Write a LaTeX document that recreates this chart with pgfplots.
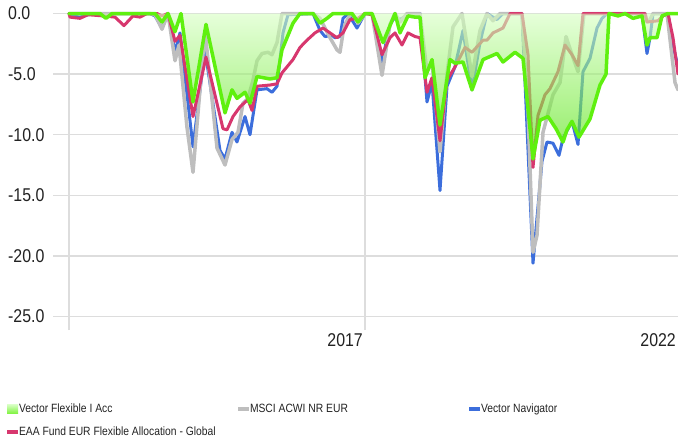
\documentclass[border=0pt]{standalone}
\usepackage{pgfplots}
\usepackage{pgfplotstable}
\pgfplotsset{compat=1.18}
\usepackage{fontspec}
\setmainfont{Liberation Sans}[FakeStretch=0.86]
\definecolor{vgreen}{RGB}{95,240,15}
\definecolor{filltop}{RGB}{215,255,195}
\definecolor{fillbot}{RGB}{75,225,0}
\definecolor{mgray}{RGB}{190,190,190}
\definecolor{vblue}{RGB}{60,110,220}
\definecolor{vpink}{RGB}{215,55,110}
\definecolor{gridc}{RGB}{221,221,221}
\definecolor{txt}{RGB}{34,34,34}

\pgfplotstableread{
x y
69 0
100 0
106 -0.4
112 0
155 0
162 -0.7
168 0
175 -1.5
181 0
193 -7.3
206 -0.9
225 -8.2
232 -6.3
237 -7.0
245 -6.5
250 -7.4
257 -5.2
270 -5.4
277 -5.3
282 -3.0
287 -2.0
293 -0.8
300 0
313 0
320 -0.8
327 -0.4
333 0
352 0
358 -0.7
365 0
372 0
383 -2.4
395 0
400 -1.6
408 -0.2
415 -0.3
420 -0.3
425 -5.3
432 -3.8
440 -9.2
450 -3.8
455 -4.1
463 -4.0
472 -6.3
483 -3.8
497 -3.3
503 -4.0
515 -3.2
523 -3.7
533 -12.0
540 -8.8
548 -8.5
556 -9.5
563 -10.6
567 -9.6
572 -8.9
579 -10.2
590 -8.7
600 -5.9
606 -5.0
609 0
618 -0.2
625 0
633 -0.4
642 -0.2
647 -2.6
650 -2.0
657 -2.0
662 -0.2
668 0
678 0
}\greentab

\pgfplotstableread{
x y
69 0
100 0
150 0
155 -0.1
162 -1.3
168 0
175 -3.9
179 -2.6
187 -9.4
193 -13.1
205 -1.4
217 -11.1
225 -12.5
232 -10.4
238 -9.8
243 -7.4
248 -7.0
253 -5.5
257 -3.9
262 -3.3
268 -3.2
272 -3.4
277 -2.4
282 0
313 0
320 -0.4
330 -2.0
337 -3.0
340 -3.2
343 -1.6
345 -0.9
350 -0.1
352 0
358 -0.8
365 0
372 0
382 -5.1
390 -0.9
395 0
400 -0.7
407 0
420 0
427 -4.8
432 -4.0
440 -11.4
447 -5.0
453 -1.1
462 0
472 -5.2
480 -1.4
487 0
493 -0.6
500 0
522 0
528 -8.0
533 -19.7
537 -18.3
543 -9.8
553 -6.7
560 -5.7
566 -1.9
572 -3.4
578 -4.8
584 0
645 0
647 -0.7
650 -0.5
653 0
667 0
675 -5.7
678 -6.3
}\graytab

\pgfplotstableread{
x y
69 0
72 -0.2
80 -0.3
88 -0.1
100 0
150 0
155 -0.2
162 -1.2
168 0
175 -3.2
180 -1.6
193 -11.0
205 -3.0
220 -11.3
225 -12.0
232 -9.8
237 -10.6
245 -8.5
250 -10.0
257 -6.3
267 -6.2
272 -6.5
277 -6.0
283 -1.6
288 -0.1
313 0
320 -1.4
325 -1.9
332 -1.8
335 -2.0
340 -1.9
343 -0.4
348 0
357 -1.2
365 0
372 0
382 -4.0
390 -0.9
395 -0.3
400 -0.5
408 -0.1
420 0
427 -7.3
432 -5.7
440 -14.6
447 -6.0
455 -4.4
463 -1.4
472 -6.3
480 -2.4
487 0
497 -0.5
503 0
522 0
533 -20.6
542 -12.2
547 -10.6
553 -10.7
559 -11.7
563 -10.3
572 -8.9
578 -10.8
583 -4.8
590 -3.7
597 -1.2
602 -0.4
607 0
642 0
647 -3.3
650 -2.0
653 0
668 0
673 -2.6
678 -4.4
}\bluetab

\pgfplotstableread{
x y
69 0
70 -0.3
80 -0.4
88 -0.1
103 -0.2
115 -0.3
124 -1.0
133 -0.2
140 -0.3
147 0
157 0
162 -0.2
168 0
175 -2.3
180 -1.8
193 -8.5
206 -3.6
223 -9.5
227 -9.6
233 -8.5
240 -7.7
248 -7.1
252 -8.0
257 -6.0
270 -5.9
277 -5.8
282 -4.9
287 -4.4
293 -3.8
300 -2.8
307 -2.2
315 -1.6
323 -1.2
330 -1.6
337 -2.0
343 -1.6
350 -0.5
358 -0.4
365 0
372 -0.1
382 -3.4
390 -2.0
395 -1.6
402 -2.6
408 -1.6
415 -1.9
420 -2.0
427 -6.5
432 -5.3
440 -10.5
447 -5.5
455 -4.4
465 -2.8
472 -3.2
483 -2.2
487 -2.2
493 -1.6
503 -1.2
510 0
522 0
528 -3.4
533 -12.7
538 -8.4
545 -6.7
550 -6.2
558 -4.8
565 -2.6
572 -3.4
578 -4.3
583 0
645 0
647 -0.7
658 -0.6
663 -0.2
668 0
673 -2.0
678 -5.0
}\pinktab

\begin{document}
\begin{tikzpicture}
\path[use as bounding box] (0,0) rectangle (678bp,-440bp);
\begin{axis}[
  at={(53bp,-13.5bp)}, anchor=north west,
  scale only axis, width=625bp, height=316.5bp,
  xmin=53, xmax=678, ymin=-26.11, ymax=0,
  clip=false,
  axis line style={draw=none},
  major tick length=0pt,
  xtick={69,365}, xticklabels={,2017},
  extra x ticks={678}, extra x tick labels={2022},
  extra x tick style={grid=none},
  ytick={-25,-20,-15,-10,-5,0},
  yticklabels={-25.0,-20.0,-15.0,-10.0,-5.0,0.0},
  grid=major,
  grid style={draw=gridc, line width=1.3bp},
  tick label style={font=\fontsize{18.5bp}{21bp}\selectfont, text=txt},
  yticklabel style={anchor=west, inner sep=0pt, xshift=-45bp},
  xticklabel style={anchor=north east, inner sep=0pt, xshift=-2bp, yshift=-3bp},
  legend columns=3,
  legend cell align=left,
  legend style={at={(-0.0736,-0.2307)}, anchor=north west, draw=none, fill=none,
    inner sep=0pt, outer sep=0pt, column sep=0pt, row sep=11bp,
    font=\fontsize{12bp}{14bp}\selectfont, text=txt,
    nodes={inner sep=0pt, text height=9bp, text depth=3bp}},
]
\addlegendimage{legend image code/.code={\path[draw=none, top color=filltop, bottom color=vgreen!80] (0bp,-4.5bp) rectangle (11bp,4.5bp);}}
\addlegendentry{\makebox[220bp][l]{\hspace{1bp}Vector Flexible I Acc}}
\addlegendimage{legend image code/.code={\path[draw=none, fill=mgray] (0bp,-2bp) rectangle (11bp,2bp);}}
\addlegendentry{\makebox[220bp][l]{\hspace{1bp}MSCI ACWI NR EUR}}
\addlegendimage{legend image code/.code={\path[draw=none, fill=vblue] (0bp,-2bp) rectangle (11bp,2bp);}}
\addlegendentry{\makebox[220bp][l]{\hspace{1bp}Vector Navigator}}
\addlegendimage{legend image code/.code={\path[draw=none, fill=vpink] (0bp,-2bp) rectangle (11bp,2bp);}}
\addlegendentry{\makebox[220bp][l]{\hspace{1bp}EAA Fund EUR Flexible Allocation - Global}}

\addplot[forget plot, vblue, line width=3bp, line join=round, line cap=round] table {\bluetab};
\addplot[forget plot, mgray, line width=3.5bp, line join=round, line cap=round] table {\graytab};
\addplot[forget plot, vpink, line width=3bp, line join=round, line cap=round] table {\pinktab};
\addplot[forget plot, draw=none, fill opacity=0.62, top color=filltop, bottom color=fillbot] table {\greentab} \closedcycle;
\addplot[forget plot, vgreen, line width=3.5bp, line join=round, line cap=round] table {\greentab};
\end{axis}
\end{tikzpicture}
\end{document}
